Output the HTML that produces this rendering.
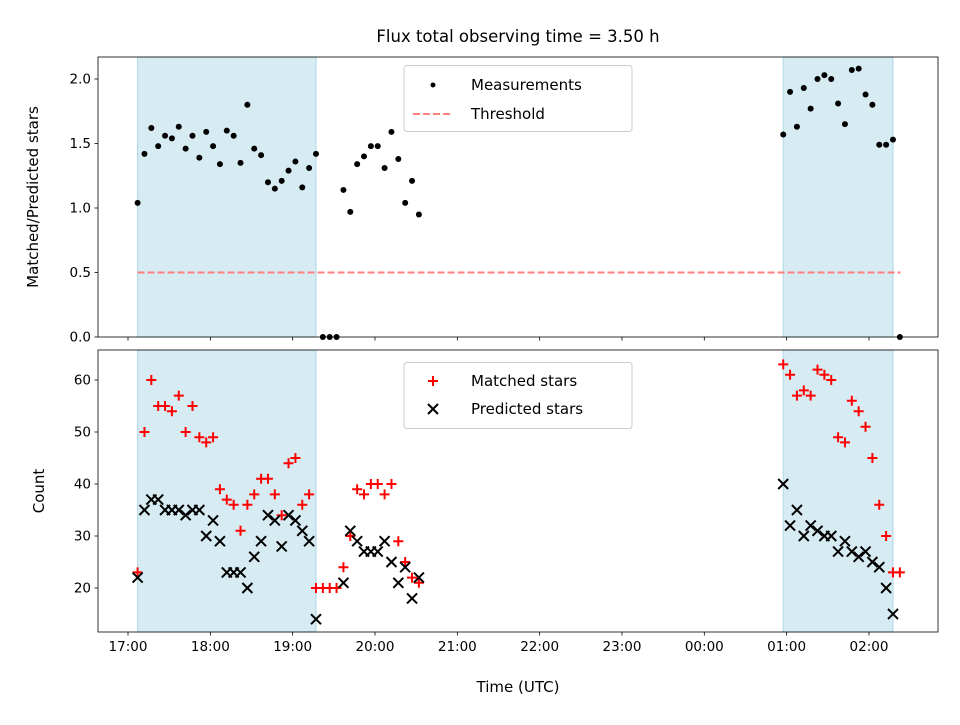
<!DOCTYPE html>
<html><head><meta charset="utf-8"><style>
body{margin:0;background:#fff;}
svg text{font-family:"DejaVu Sans","Liberation Sans",sans-serif;fill:#000;}
</style></head><body>
<svg id="chart" width="960" height="720" xmlns="http://www.w3.org/2000/svg">
<text x="518" y="42" font-size="16.5" text-anchor="middle">Flux total observing time = 3.50 h</text>
<g id="top"></g><g id="bot"></g>
</svg>
<script>
// time in minutes after 17:00
const times1 = [7,12,17,22,27,32,37,42,47,52,57,62,67,72,77,82,87,92,97,102,107,112,117,122,127,132,137,142,147,152,157,162,167,172,177,182,187,192,197,202,207,212];
const ratio1 = [1.04,1.42,1.62,1.48,1.56,1.54,1.63,1.46,1.56,1.39,1.59,1.48,1.34,1.60,1.56,1.35,1.80,1.46,1.41,1.20,1.15,1.21,1.29,1.36,1.16,1.31,1.42,0,0,0,1.14,0.97,1.34,1.40,1.48,1.48,1.31,1.59,1.38,1.04,1.21,0.95];
const matched1 = [23,50,60,55,55,54,57,50,55,49,48,49,39,37,36,31,36,38,41,41,38,34,44,45,36,38,20,20,20,20,24,30,39,38,40,40,38,40,29,25,22,21];
const predicted1 = [22,35,37,37,35,35,35,34,35,35,30,33,29,23,23,23,20,26,29,34,33,28,34,33,31,29,14,null,null,null,21,31,29,27,27,27,29,25,21,24,18,22];
const times2 = [477.5,482.5,487.5,492.5,497.5,502.5,507.5,512.5,517.5,522.5,527.5,532.5,537.5,542.5,547.5,552.5,557.5,562.5];
const ratio2 = [1.57,1.90,1.63,1.93,1.77,2.00,2.03,2.00,1.81,1.65,2.07,2.08,1.88,1.80,1.49,1.49,1.53,0];
const matched2 = [63,61,57,58,57,62,61,60,49,48,56,54,51,45,36,30,23,23];
const predicted2 = [40,32,35,30,32,31,30,30,27,29,27,26,27,25,24,20,15,null];
const shadeSpans = [[7,137],[477.5,557.5]];
const threshold = 0.5, threshStart = 7, threshEnd = 563;
const xTicks = ["17:00","18:00","19:00","20:00","21:00","22:00","23:00","00:00","01:00","02:00"];
const topTicks = [0,0.5,1.0,1.5,2.0];
const botTicks = [20,30,40,50,60];

const NS="http://www.w3.org/2000/svg";
const X0=98,X1=938;
const xs = m => 128 + m*82.33/60;
const yTop = v => 337 - v*129;
const yBot = v => 588 - (v-20)*5.2;
function mk(p,tag,attrs){const e=document.createElementNS(NS,tag);for(const k in attrs)e.setAttribute(k,attrs[k]);p.appendChild(e);return e;}
const gT=document.getElementById('top'), gB=document.getElementById('bot');

function axesFrame(g,yt,yb,ticks,yfn,fmt,showLabels,name){
  shadeSpans.forEach(s=>{
    const r=mk(g,'rect',{x:xs(s[0]),y:yt,width:xs(s[1])-xs(s[0]),height:yb-yt,fill:'#add8e6','fill-opacity':0.5,stroke:'#add8e6','stroke-width':1});
    
    
  });
  ticks.forEach(t=>{
    const y=yfn(t);
    mk(g,'line',{x1:X0-3.5,x2:X0,y1:y,y2:y,stroke:'#000','stroke-width':0.8});
    const tx=mk(g,'text',{x:X0-7,y:y+4.5,'font-size':13.5,'text-anchor':'end'});
    tx.textContent=fmt(t);
    
    
  });
  xTicks.forEach((t,i)=>{
    const x=xs(i*60);
    mk(g,'line',{x1:x,x2:x,y1:yb,y2:yb+3.5,stroke:'#000','stroke-width':0.8});
    if(showLabels){
      const tx=mk(g,'text',{x:x,y:yb+19,'font-size':13.5,'text-anchor':'middle'});
      tx.textContent=t;
      
      
    }
  });
}
function frame(g,yt,yb){
  const r=mk(g,'rect',{x:X0,y:yt,width:X1-X0,height:yb-yt,fill:'none',stroke:'#000','stroke-width':0.8});
  
  
}

// TOP
axesFrame(gT,57,337,topTicks,yTop,t=>t.toFixed(1),false);
const th=mk(gT,'line',{x1:xs(threshStart),x2:xs(threshEnd),y1:yTop(threshold),y2:yTop(threshold),stroke:'#ff7f7f','stroke-width':2,'stroke-dasharray':'7,3'});


[[times1,ratio1],[times2,ratio2]].forEach(([t,v])=>{
  t.forEach((m,i)=>{
    const c=mk(gT,'circle',{cx:xs(m),cy:yTop(v[i]),r:3,fill:'#000'});
    
    
  });
});
frame(gT,57,337);
const yl1=mk(gT,'text',{x:38,y:197,'font-size':15,'text-anchor':'middle',transform:'rotate(-90 38 197)'});
yl1.textContent='Matched/Predicted stars';



// BOTTOM
axesFrame(gB,350,632,botTicks,yBot,t=>String(t),true);
function plus(g,x,y){const p=mk(g,'path',{d:`M${x-5},${y}H${x+5}M${x},${y-5}V${y+5}`,stroke:'#ff0000','stroke-width':2,fill:'none'});
  
  }
function cross(g,x,y){const p=mk(g,'path',{d:`M${x-5},${y-5}L${x+5},${y+5}M${x-5},${y+5}L${x+5},${y-5}`,stroke:'#000','stroke-width':2,fill:'none'});
  
  }
[[times1,matched1,predicted1],[times2,matched2,predicted2]].forEach(([t,m,p])=>{
  t.forEach((mm,i)=>{ if(m[i]!=null) plus(gB,xs(mm),yBot(m[i])); });
  t.forEach((mm,i)=>{ if(p[i]!=null) cross(gB,xs(mm),yBot(p[i])); });
});
frame(gB,350,632);
const yl2=mk(gB,'text',{x:44,y:491,'font-size':15,'text-anchor':'middle',transform:'rotate(-90 44 491)'});
yl2.textContent='Count';


const xl=mk(gB,'text',{x:518,y:692,'font-size':15,'text-anchor':'middle'});
xl.textContent='Time (UTC)';



// LEGENDS
function legendBox(g,y,name){
  const r=mk(g,'rect',{x:404,y:y,width:228,height:66,rx:3,fill:'#fff','fill-opacity':0.8,stroke:'#ccc','stroke-width':1});
  
  
}
legendBox(gT,65.5,'top-legend');
const lc=mk(gT,'circle',{cx:433,cy:85,r:2.5,fill:'#000'});


const lt1=mk(gT,'text',{x:471,y:90,'font-size':15});
lt1.textContent='Measurements';


const ll=mk(gT,'line',{x1:413,x2:453,y1:114,y2:114,stroke:'#ff7f7f','stroke-width':2,'stroke-dasharray':'7,3'});


const lt2=mk(gT,'text',{x:471,y:119,'font-size':15});
lt2.textContent='Threshold';



legendBox(gB,362.5,'bottom-legend');
plus(gB,433,381);
const lt3=mk(gB,'text',{x:471,y:386,'font-size':15});
lt3.textContent='Matched stars';


cross(gB,433,409);
const lt4=mk(gB,'text',{x:471,y:414,'font-size':15});
lt4.textContent='Predicted stars';


</script>
</body></html>
